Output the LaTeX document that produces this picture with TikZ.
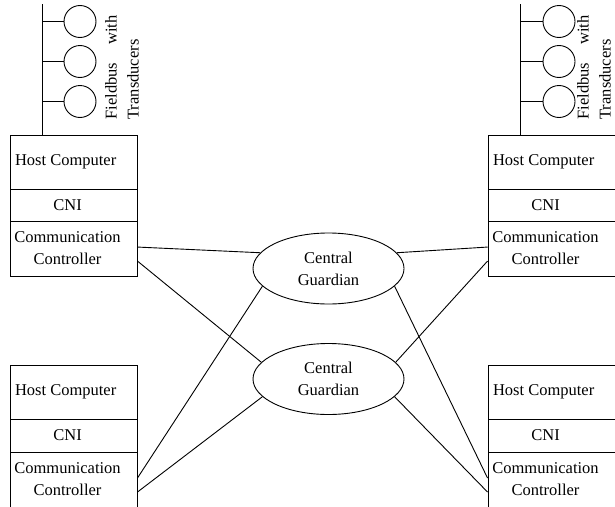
\documentclass[tikz,border=0pt]{standalone}
\usepackage{fontspec}
\setmainfont{Liberation Serif}
\usetikzlibrary{shapes.geometric}
\begin{document}
\begin{tikzpicture}[x=1pt,y=-1pt, line width=0.9pt,
  every node/.style={font=\fontsize{16.5}{22}\selectfont},
  part/.style={draw, rectangle, inner sep=0pt},
  leftpart/.style={part, minimum width=127pt},
  rightpart/.style={part, minimum width=130pt},
  lbl/.style={inner sep=0pt, align=center},
  guard/.style={draw, ellipse, minimum width=151pt, minimum height=71pt,
    inner sep=0pt, align=center},
  sensor/.style={draw, circle, minimum size=32pt, inner sep=0pt},
  vlbl/.style={inner sep=0pt, rotate=90, anchor=base west}]
\useasboundingbox (0,0) rectangle (615,506);
\clip (0,0) rectangle (615,506);

% ---- node 1 (top left) ----
\node[leftpart, minimum height=54pt] (h1) at (73.5,162) {};
\node[leftpart, minimum height=32pt] (n1) at (73.5,205) {};
\node[leftpart, minimum height=55pt] (c1) at (73.5,248.5) {};
% ---- node 2 (top right) ----
\node[rightpart, minimum height=54pt] (h2) at (553,162) {};
\node[rightpart, minimum height=32pt] (n2) at (553,205) {};
\node[rightpart, minimum height=55pt] (c2) at (553,248.5) {};
% ---- node 3 (bottom left) ----
\node[leftpart, minimum height=54pt] (h3) at (73.5,392) {};
\node[leftpart, minimum height=33pt] (n3) at (73.5,435.5) {};
\node[leftpart, minimum height=60pt] (c3) at (73.5,482) {};
% ---- node 4 (bottom right) ----
\node[rightpart, minimum height=54pt] (h4) at (553,392) {};
\node[rightpart, minimum height=33pt] (n4) at (553,435.5) {};
\node[rightpart, minimum height=60pt] (c4) at (553,482) {};

% labels inside the nodes
\foreach \k in {1,2,3,4} {
  \node[lbl, anchor=west] at ([xshift=5pt]h\k.west) {Host Computer};
  \node[lbl] at ([xshift=58pt]n\k.west) {CNI};
  \node[lbl] at ([xshift=58pt,yshift=-27.5pt]c\k.north west) {Communication\\Controller};
}

% ---- central guardians ----
\node[guard] (g1) at (328.5,268.5) {Central\\Guardian};
\node[guard] (g2) at (328.5,379) {Central\\Guardian};

% ---- links from the communication controllers ----
\coordinate (a1) at ([yshift=-26.5pt]c1.north east);
\coordinate (b1) at ([yshift=-40.5pt]c1.north east);
\coordinate (a3) at ([yshift=-26.5pt]c3.north east);
\coordinate (b3) at ([yshift=-40.5pt]c3.north east);
\coordinate (a2) at ([yshift=-26.5pt]c2.north west);
\coordinate (b2) at ([yshift=-40.5pt]c2.north west);
\coordinate (a4) at ([yshift=-26.5pt]c4.north west);
\coordinate (b4) at ([yshift=-40.5pt]c4.north west);
\draw (a1) -- (g1.167);
\draw (b1) -- (g2.166);
\draw (a3) -- (g1.195);
\draw (b3) -- (g2.195);
\draw (a2) -- (g1.13);
\draw (b2) -- (g2.14);
\draw (a4) -- (g1.345);
\draw (b4) -- (g2.345);

% ---- fieldbus with transducers (left) ----
\coordinate (bus1) at (42,4);
\draw (bus1) -- (bus1 |- h1.north);
\node[sensor] (s11) at (80,21.5) {};
\node[sensor] (s12) at (80,61.5) {};
\node[sensor] (s13) at (80,101.5) {};
\foreach \j in {1,2,3} \draw (s1\j.west -| bus1) -- (s1\j.west);
\node[vlbl] (f1a) at (116.5,120) {\hbox to 104pt{Fieldbus\hfill with}};
\node[vlbl] (f1b) at (138.5,120) {Transducers};

% ---- fieldbus with transducers (right) ----
\coordinate (bus2) at (520,4);
\draw (bus2) -- (bus2 |- h2.north);
\node[sensor] (s21) at (559,21.5) {};
\node[sensor] (s22) at (559,61.5) {};
\node[sensor] (s23) at (559,101.5) {};
\foreach \j in {1,2,3} \draw (s2\j.west -| bus2) -- (s2\j.west);
\node[vlbl] (f2a) at (588.5,120) {\hbox to 104pt{Fieldbus\hfill with}};
\node[vlbl] (f2b) at (610.5,120) {Transducers};
\end{tikzpicture}
\end{document}
